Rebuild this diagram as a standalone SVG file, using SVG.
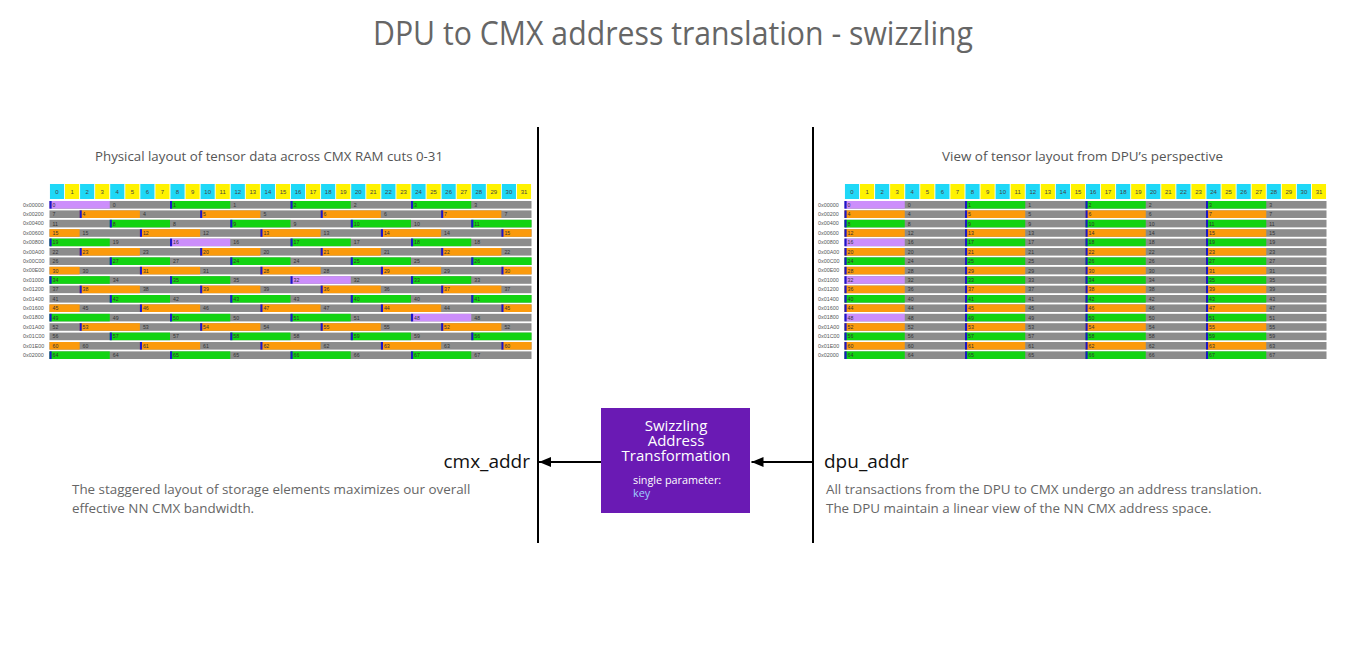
<svg xmlns="http://www.w3.org/2000/svg" xmlns:xlink="http://www.w3.org/1999/xlink" width="1354" height="657" viewBox="0 0 1354 657">
<style>
.gr{fill:#8c8c8c}.gn{fill:#12d312}.or{fill:#fb9a0c}.pu{fill:#cc8efb}.bl{fill:#1b16c8}
.cy{fill:#1fd8f7}.ye{fill:#fff200}
.hn{font-family:"Liberation Sans",Arial,sans-serif;font-size:6px;fill:#444;text-anchor:middle}
.lb{font-family:"Liberation Sans",Arial,sans-serif;font-size:5.2px;fill:#333}
.ad{font-family:"Liberation Sans",Arial,sans-serif;font-size:5.4px;fill:#555}
.sans{font-family:"Open Sans","Liberation Sans",sans-serif}
.vl{stroke:#000;stroke-width:2}
.conn{stroke:#000;stroke-width:2;fill:none}
</style>
<defs>
<marker id="ah" markerUnits="userSpaceOnUse" markerWidth="13" markerHeight="11" refX="12" refY="5" orient="auto">
<path d="M0,0 L12,5 L0,10 z" fill="#000"/>
</marker>
<g id="mk"><rect class="bl" x="0" width="0.14" height="7.6"/><rect class="bl" x="8" width="0.14" height="7.6"/><rect class="bl" x="16" width="0.14" height="7.6"/><rect class="bl" x="24" width="0.14" height="7.6"/></g>
<g id="hdr">
<g transform="scale(15.0625,1)">
<rect class="cy" x="0.03" width="0.94" height="15"/><rect class="ye" x="1.03" width="0.94" height="15"/><rect class="cy" x="2.03" width="0.94" height="15"/><rect class="ye" x="3.03" width="0.94" height="15"/>
<rect class="cy" x="4.03" width="0.94" height="15"/><rect class="ye" x="5.03" width="0.94" height="15"/><rect class="cy" x="6.03" width="0.94" height="15"/><rect class="ye" x="7.03" width="0.94" height="15"/>
<rect class="cy" x="8.03" width="0.94" height="15"/><rect class="ye" x="9.03" width="0.94" height="15"/><rect class="cy" x="10.03" width="0.94" height="15"/><rect class="ye" x="11.03" width="0.94" height="15"/>
<rect class="cy" x="12.03" width="0.94" height="15"/><rect class="ye" x="13.03" width="0.94" height="15"/><rect class="cy" x="14.03" width="0.94" height="15"/><rect class="ye" x="15.03" width="0.94" height="15"/>
<rect class="cy" x="16.03" width="0.94" height="15"/><rect class="ye" x="17.03" width="0.94" height="15"/><rect class="cy" x="18.03" width="0.94" height="15"/><rect class="ye" x="19.03" width="0.94" height="15"/>
<rect class="cy" x="20.03" width="0.94" height="15"/><rect class="ye" x="21.03" width="0.94" height="15"/><rect class="cy" x="22.03" width="0.94" height="15"/><rect class="ye" x="23.03" width="0.94" height="15"/>
<rect class="cy" x="24.03" width="0.94" height="15"/><rect class="ye" x="25.03" width="0.94" height="15"/><rect class="cy" x="26.03" width="0.94" height="15"/><rect class="ye" x="27.03" width="0.94" height="15"/>
<rect class="cy" x="28.03" width="0.94" height="15"/><rect class="ye" x="29.03" width="0.94" height="15"/><rect class="cy" x="30.03" width="0.94" height="15"/><rect class="ye" x="31.03" width="0.94" height="15"/>
</g>
<text class="hn" y="9.6"><tspan x="7.53">0</tspan><tspan x="22.59">1</tspan><tspan x="37.66">2</tspan><tspan x="52.72">3</tspan><tspan x="67.78">4</tspan><tspan x="82.84">5</tspan><tspan x="97.91">6</tspan><tspan x="112.97">7</tspan><tspan x="128.03">8</tspan><tspan x="143.09">9</tspan><tspan x="158.16">10</tspan><tspan x="173.22">11</tspan><tspan x="188.28">12</tspan><tspan x="203.34">13</tspan><tspan x="218.41">14</tspan><tspan x="233.47">15</tspan><tspan x="248.53">16</tspan><tspan x="263.59">17</tspan><tspan x="278.66">18</tspan><tspan x="293.72">19</tspan><tspan x="308.78">20</tspan><tspan x="323.84">21</tspan><tspan x="338.91">22</tspan><tspan x="353.97">23</tspan><tspan x="369.03">24</tspan><tspan x="384.09">25</tspan><tspan x="399.16">26</tspan><tspan x="414.22">27</tspan><tspan x="429.28">28</tspan><tspan x="444.34">29</tspan><tspan x="459.41">30</tspan><tspan x="474.47">31</tspan></text>
</g>
<g id="addr" class="ad">
<text y="206.6">0x00000</text><text y="216">0x00200</text><text y="225.4">0x00400</text><text y="234.8">0x00600</text><text y="244.2">0x00800</text><text y="253.6">0x00A00</text><text y="263">0x00C00</text><text y="272.4">0x00E00</text><text y="281.8">0x01000</text><text y="291.2">0x01200</text><text y="300.6">0x01400</text><text y="310">0x01600</text><text y="319.4">0x01800</text><text y="328.8">0x01A00</text><text y="338.2">0x01C00</text><text y="347.6">0x01E00</text><text y="357">0x02000</text>
</g>
</defs>

<text id="title" class="sans" x="673" y="45" font-size="32" fill="#666" text-anchor="middle" textLength="600" lengthAdjust="spacingAndGlyphs">DPU to CMX address translation - swizzling</text>

<g id="dividers">
<line class="vl" x1="538" y1="127" x2="538" y2="543"/>
<line class="vl" x1="813" y1="127" x2="813" y2="543"/>
</g>

<g id="physical-layout">
<text class="sans" x="95" y="160.5" font-size="13.5" fill="#555" textLength="348" lengthAdjust="spacingAndGlyphs">Physical layout of tensor data across CMX RAM cuts 0-31</text>
<use xlink:href="#hdr" href="#hdr" transform="translate(49.5,184)"/>
<use xlink:href="#addr" href="#addr" transform="translate(23,0)"/>
<g transform="translate(49.5,0) scale(15.0625,1)">
<g class="gr">
<rect x="0" y="201" width="32" height="7.6"/><rect x="0" y="210.4" width="32" height="7.6"/><rect x="0" y="219.8" width="32" height="7.6"/><rect x="0" y="229.2" width="32" height="7.6"/><rect x="0" y="238.6" width="32" height="7.6"/><rect x="0" y="248" width="32" height="7.6"/><rect x="0" y="257.4" width="32" height="7.6"/><rect x="0" y="266.8" width="32" height="7.6"/><rect x="0" y="276.2" width="32" height="7.6"/><rect x="0" y="285.6" width="32" height="7.6"/><rect x="0" y="295" width="32" height="7.6"/><rect x="0" y="304.4" width="32" height="7.6"/><rect x="0" y="313.8" width="32" height="7.6"/><rect x="0" y="323.2" width="32" height="7.6"/><rect x="0" y="332.6" width="32" height="7.6"/><rect x="0" y="342" width="32" height="7.6"/><rect x="0" y="351.4" width="32" height="7.6"/>
</g>
<rect class="pu" x="0" y="201" width="4" height="7.6"/><rect class="gn" x="8" y="201" width="4" height="7.6"/><rect class="gn" x="16" y="201" width="4" height="7.6"/><rect class="gn" x="24" y="201" width="4" height="7.6"/>
<g class="or"><rect x="2" y="210.4" width="4" height="7.6"/><rect x="10" y="210.4" width="4" height="7.6"/><rect x="18" y="210.4" width="4" height="7.6"/><rect x="26" y="210.4" width="4" height="7.6"/></g>
<g class="gn"><rect x="4" y="219.8" width="4" height="7.6"/><rect x="12" y="219.8" width="4" height="7.6"/><rect x="20" y="219.8" width="4" height="7.6"/><rect x="28" y="219.8" width="4" height="7.6"/></g>
<g class="or"><rect x="6" y="229.2" width="4" height="7.6"/><rect x="14" y="229.2" width="4" height="7.6"/><rect x="22" y="229.2" width="4" height="7.6"/><rect x="30" y="229.2" width="2" height="7.6"/><rect x="0" y="229.2" width="2" height="7.6"/></g>
<rect class="pu" x="8" y="238.6" width="4" height="7.6"/><g class="gn"><rect x="16" y="238.6" width="4" height="7.6"/><rect x="24" y="238.6" width="4" height="7.6"/><rect x="0" y="238.6" width="4" height="7.6"/></g>
<g class="or"><rect x="10" y="248" width="4" height="7.6"/><rect x="18" y="248" width="4" height="7.6"/><rect x="26" y="248" width="4" height="7.6"/><rect x="2" y="248" width="4" height="7.6"/></g>
<g class="gn"><rect x="12" y="257.4" width="4" height="7.6"/><rect x="20" y="257.4" width="4" height="7.6"/><rect x="28" y="257.4" width="4" height="7.6"/><rect x="4" y="257.4" width="4" height="7.6"/></g>
<g class="or"><rect x="14" y="266.8" width="4" height="7.6"/><rect x="22" y="266.8" width="4" height="7.6"/><rect x="6" y="266.8" width="4" height="7.6"/><rect x="30" y="266.8" width="2" height="7.6"/><rect x="0" y="266.8" width="2" height="7.6"/></g>
<rect class="pu" x="16" y="276.2" width="4" height="7.6"/><g class="gn"><rect x="24" y="276.2" width="4" height="7.6"/><rect x="0" y="276.2" width="4" height="7.6"/><rect x="8" y="276.2" width="4" height="7.6"/></g>
<g class="or"><rect x="18" y="285.6" width="4" height="7.6"/><rect x="26" y="285.6" width="4" height="7.6"/><rect x="2" y="285.6" width="4" height="7.6"/><rect x="10" y="285.6" width="4" height="7.6"/></g>
<g class="gn"><rect x="20" y="295" width="4" height="7.6"/><rect x="28" y="295" width="4" height="7.6"/><rect x="4" y="295" width="4" height="7.6"/><rect x="12" y="295" width="4" height="7.6"/></g>
<g class="or"><rect x="22" y="304.4" width="4" height="7.6"/><rect x="6" y="304.4" width="4" height="7.6"/><rect x="14" y="304.4" width="4" height="7.6"/><rect x="30" y="304.4" width="2" height="7.6"/><rect x="0" y="304.4" width="2" height="7.6"/></g>
<rect class="pu" x="24" y="313.8" width="4" height="7.6"/><g class="gn"><rect x="0" y="313.8" width="4" height="7.6"/><rect x="8" y="313.8" width="4" height="7.6"/><rect x="16" y="313.8" width="4" height="7.6"/></g>
<g class="or"><rect x="26" y="323.2" width="4" height="7.6"/><rect x="2" y="323.2" width="4" height="7.6"/><rect x="10" y="323.2" width="4" height="7.6"/><rect x="18" y="323.2" width="4" height="7.6"/></g>
<g class="gn"><rect x="28" y="332.6" width="4" height="7.6"/><rect x="4" y="332.6" width="4" height="7.6"/><rect x="12" y="332.6" width="4" height="7.6"/><rect x="20" y="332.6" width="4" height="7.6"/></g>
<g class="or"><rect x="6" y="342" width="4" height="7.6"/><rect x="14" y="342" width="4" height="7.6"/><rect x="22" y="342" width="4" height="7.6"/><rect x="30" y="342" width="2" height="7.6"/><rect x="0" y="342" width="2" height="7.6"/></g>
<g class="gn"><rect x="0" y="351.4" width="4" height="7.6"/><rect x="8" y="351.4" width="4" height="7.6"/><rect x="16" y="351.4" width="4" height="7.6"/><rect x="24" y="351.4" width="4" height="7.6"/></g>
<use href="#mk" xlink:href="#mk" x="0" y="201"/><use href="#mk" xlink:href="#mk" x="2" y="210.4"/><use href="#mk" xlink:href="#mk" x="4" y="219.8"/><use href="#mk" xlink:href="#mk" x="6" y="229.2"/>
<use href="#mk" xlink:href="#mk" x="0" y="238.6"/><use href="#mk" xlink:href="#mk" x="2" y="248"/><use href="#mk" xlink:href="#mk" x="4" y="257.4"/><use href="#mk" xlink:href="#mk" x="6" y="266.8"/>
<use href="#mk" xlink:href="#mk" x="0" y="276.2"/><use href="#mk" xlink:href="#mk" x="2" y="285.6"/><use href="#mk" xlink:href="#mk" x="4" y="295"/><use href="#mk" xlink:href="#mk" x="6" y="304.4"/>
<use href="#mk" xlink:href="#mk" x="0" y="313.8"/><use href="#mk" xlink:href="#mk" x="2" y="323.2"/><use href="#mk" xlink:href="#mk" x="4" y="332.6"/><use href="#mk" xlink:href="#mk" x="6" y="342"/>
<use href="#mk" xlink:href="#mk" x="0" y="351.4"/>
</g>
<g class="lb" transform="translate(3,0)">
<text y="206.8"><tspan x="49.5">0</tspan><tspan x="109.8">0</tspan><tspan x="170">1</tspan><tspan x="230.3">1</tspan><tspan x="290.5">2</tspan><tspan x="350.8">2</tspan><tspan x="411">3</tspan><tspan x="471.3">3</tspan></text>
<text y="216.2"><tspan x="49.5">7</tspan><tspan x="79.6">4</tspan><tspan x="139.9">4</tspan><tspan x="200.1">5</tspan><tspan x="260.4">5</tspan><tspan x="320.6">6</tspan><tspan x="380.9">6</tspan><tspan x="441.1">7</tspan><tspan x="501.4">7</tspan></text>
<text y="225.6"><tspan x="49.5">11</tspan><tspan x="109.8">8</tspan><tspan x="170">8</tspan><tspan x="230.3">9</tspan><tspan x="290.5">9</tspan><tspan x="350.8">10</tspan><tspan x="411">10</tspan><tspan x="471.3">11</tspan></text>
<text y="235"><tspan x="49.5">15</tspan><tspan x="79.6">15</tspan><tspan x="139.9">12</tspan><tspan x="200.1">12</tspan><tspan x="260.4">13</tspan><tspan x="320.6">13</tspan><tspan x="380.9">14</tspan><tspan x="441.1">14</tspan><tspan x="501.4">15</tspan></text>
<text y="244.4"><tspan x="49.5">19</tspan><tspan x="109.8">19</tspan><tspan x="170">16</tspan><tspan x="230.3">16</tspan><tspan x="290.5">17</tspan><tspan x="350.8">17</tspan><tspan x="411">18</tspan><tspan x="471.3">18</tspan></text>
<text y="253.8"><tspan x="49.5">22</tspan><tspan x="79.6">23</tspan><tspan x="139.9">23</tspan><tspan x="200.1">20</tspan><tspan x="260.4">20</tspan><tspan x="320.6">21</tspan><tspan x="380.9">21</tspan><tspan x="441.1">22</tspan><tspan x="501.4">22</tspan></text>
<text y="263.2"><tspan x="49.5">26</tspan><tspan x="109.8">27</tspan><tspan x="170">27</tspan><tspan x="230.3">24</tspan><tspan x="290.5">24</tspan><tspan x="350.8">25</tspan><tspan x="411">25</tspan><tspan x="471.3">26</tspan></text>
<text y="272.6"><tspan x="49.5">30</tspan><tspan x="79.6">30</tspan><tspan x="139.9">31</tspan><tspan x="200.1">31</tspan><tspan x="260.4">28</tspan><tspan x="320.6">28</tspan><tspan x="380.9">29</tspan><tspan x="441.1">29</tspan><tspan x="501.4">30</tspan></text>
<text y="282"><tspan x="49.5">34</tspan><tspan x="109.8">34</tspan><tspan x="170">35</tspan><tspan x="230.3">35</tspan><tspan x="290.5">32</tspan><tspan x="350.8">32</tspan><tspan x="411">33</tspan><tspan x="471.3">33</tspan></text>
<text y="291.4"><tspan x="49.5">37</tspan><tspan x="79.6">38</tspan><tspan x="139.9">38</tspan><tspan x="200.1">39</tspan><tspan x="260.4">39</tspan><tspan x="320.6">36</tspan><tspan x="380.9">36</tspan><tspan x="441.1">37</tspan><tspan x="501.4">37</tspan></text>
<text y="300.8"><tspan x="49.5">41</tspan><tspan x="109.8">42</tspan><tspan x="170">42</tspan><tspan x="230.3">43</tspan><tspan x="290.5">43</tspan><tspan x="350.8">40</tspan><tspan x="411">40</tspan><tspan x="471.3">41</tspan></text>
<text y="310.2"><tspan x="49.5">45</tspan><tspan x="79.6">45</tspan><tspan x="139.9">46</tspan><tspan x="200.1">46</tspan><tspan x="260.4">47</tspan><tspan x="320.6">47</tspan><tspan x="380.9">44</tspan><tspan x="441.1">44</tspan><tspan x="501.4">45</tspan></text>
<text y="319.6"><tspan x="49.5">49</tspan><tspan x="109.8">49</tspan><tspan x="170">50</tspan><tspan x="230.3">50</tspan><tspan x="290.5">51</tspan><tspan x="350.8">51</tspan><tspan x="411">48</tspan><tspan x="471.3">48</tspan></text>
<text y="329"><tspan x="49.5">52</tspan><tspan x="79.6">53</tspan><tspan x="139.9">53</tspan><tspan x="200.1">54</tspan><tspan x="260.4">54</tspan><tspan x="320.6">55</tspan><tspan x="380.9">55</tspan><tspan x="441.1">52</tspan><tspan x="501.4">52</tspan></text>
<text y="338.4"><tspan x="49.5">56</tspan><tspan x="109.8">57</tspan><tspan x="170">57</tspan><tspan x="230.3">58</tspan><tspan x="290.5">58</tspan><tspan x="350.8">59</tspan><tspan x="411">59</tspan><tspan x="471.3">56</tspan></text>
<text y="347.8"><tspan x="49.5">60</tspan><tspan x="79.6">60</tspan><tspan x="139.9">61</tspan><tspan x="200.1">61</tspan><tspan x="260.4">62</tspan><tspan x="320.6">62</tspan><tspan x="380.9">63</tspan><tspan x="441.1">63</tspan><tspan x="501.4">60</tspan></text>
<text y="357.2"><tspan x="49.5">64</tspan><tspan x="109.8">64</tspan><tspan x="170">65</tspan><tspan x="230.3">65</tspan><tspan x="290.5">66</tspan><tspan x="350.8">66</tspan><tspan x="411">67</tspan><tspan x="471.3">67</tspan></text>
</g>
<text class="sans" font-size="19" fill="#111" x="530" y="467.5" text-anchor="end">cmx_addr</text>
<text class="sans" font-size="13.4" fill="#666"><tspan x="72" y="494">The staggered layout of storage elements maximizes our overall</tspan><tspan x="72" y="512.5">effective NN CMX bandwidth.</tspan></text>
</g>

<g id="dpu-view">
<text class="sans" x="942" y="160.5" font-size="13.5" fill="#555" textLength="281" lengthAdjust="spacingAndGlyphs">View of tensor layout from DPU’s perspective</text>
<use xlink:href="#hdr" href="#hdr" transform="translate(844.5,184)"/>
<use xlink:href="#addr" href="#addr" transform="translate(818,0)"/>
<g transform="translate(844.5,0) scale(15.0625,1)">
<g class="gr">
<rect x="0" y="201" width="32" height="7.6"/><rect x="0" y="210.4" width="32" height="7.6"/><rect x="0" y="219.8" width="32" height="7.6"/><rect x="0" y="229.2" width="32" height="7.6"/><rect x="0" y="238.6" width="32" height="7.6"/><rect x="0" y="248" width="32" height="7.6"/><rect x="0" y="257.4" width="32" height="7.6"/><rect x="0" y="266.8" width="32" height="7.6"/><rect x="0" y="276.2" width="32" height="7.6"/><rect x="0" y="285.6" width="32" height="7.6"/><rect x="0" y="295" width="32" height="7.6"/><rect x="0" y="304.4" width="32" height="7.6"/><rect x="0" y="313.8" width="32" height="7.6"/><rect x="0" y="323.2" width="32" height="7.6"/><rect x="0" y="332.6" width="32" height="7.6"/><rect x="0" y="342" width="32" height="7.6"/><rect x="0" y="351.4" width="32" height="7.6"/>
</g>
<rect class="pu" x="0" y="201" width="4" height="7.6"/><g class="gn"><rect x="8" y="201" width="4" height="7.6"/><rect x="16" y="201" width="4" height="7.6"/><rect x="24" y="201" width="4" height="7.6"/></g>
<g class="or"><rect x="0" y="210.4" width="4" height="7.6"/><rect x="8" y="210.4" width="4" height="7.6"/><rect x="16" y="210.4" width="4" height="7.6"/><rect x="24" y="210.4" width="4" height="7.6"/></g>
<g class="gn"><rect x="0" y="219.8" width="4" height="7.6"/><rect x="8" y="219.8" width="4" height="7.6"/><rect x="16" y="219.8" width="4" height="7.6"/><rect x="24" y="219.8" width="4" height="7.6"/></g>
<g class="or"><rect x="0" y="229.2" width="4" height="7.6"/><rect x="8" y="229.2" width="4" height="7.6"/><rect x="16" y="229.2" width="4" height="7.6"/><rect x="24" y="229.2" width="4" height="7.6"/></g>
<rect class="pu" x="0" y="238.6" width="4" height="7.6"/><g class="gn"><rect x="8" y="238.6" width="4" height="7.6"/><rect x="16" y="238.6" width="4" height="7.6"/><rect x="24" y="238.6" width="4" height="7.6"/></g>
<g class="or"><rect x="0" y="248" width="4" height="7.6"/><rect x="8" y="248" width="4" height="7.6"/><rect x="16" y="248" width="4" height="7.6"/><rect x="24" y="248" width="4" height="7.6"/></g>
<g class="gn"><rect x="0" y="257.4" width="4" height="7.6"/><rect x="8" y="257.4" width="4" height="7.6"/><rect x="16" y="257.4" width="4" height="7.6"/><rect x="24" y="257.4" width="4" height="7.6"/></g>
<g class="or"><rect x="0" y="266.8" width="4" height="7.6"/><rect x="8" y="266.8" width="4" height="7.6"/><rect x="16" y="266.8" width="4" height="7.6"/><rect x="24" y="266.8" width="4" height="7.6"/></g>
<rect class="pu" x="0" y="276.2" width="4" height="7.6"/><g class="gn"><rect x="8" y="276.2" width="4" height="7.6"/><rect x="16" y="276.2" width="4" height="7.6"/><rect x="24" y="276.2" width="4" height="7.6"/></g>
<g class="or"><rect x="0" y="285.6" width="4" height="7.6"/><rect x="8" y="285.6" width="4" height="7.6"/><rect x="16" y="285.6" width="4" height="7.6"/><rect x="24" y="285.6" width="4" height="7.6"/></g>
<g class="gn"><rect x="0" y="295" width="4" height="7.6"/><rect x="8" y="295" width="4" height="7.6"/><rect x="16" y="295" width="4" height="7.6"/><rect x="24" y="295" width="4" height="7.6"/></g>
<g class="or"><rect x="0" y="304.4" width="4" height="7.6"/><rect x="8" y="304.4" width="4" height="7.6"/><rect x="16" y="304.4" width="4" height="7.6"/><rect x="24" y="304.4" width="4" height="7.6"/></g>
<rect class="pu" x="0" y="313.8" width="4" height="7.6"/><g class="gn"><rect x="8" y="313.8" width="4" height="7.6"/><rect x="16" y="313.8" width="4" height="7.6"/><rect x="24" y="313.8" width="4" height="7.6"/></g>
<g class="or"><rect x="0" y="323.2" width="4" height="7.6"/><rect x="8" y="323.2" width="4" height="7.6"/><rect x="16" y="323.2" width="4" height="7.6"/><rect x="24" y="323.2" width="4" height="7.6"/></g>
<g class="gn"><rect x="0" y="332.6" width="4" height="7.6"/><rect x="8" y="332.6" width="4" height="7.6"/><rect x="16" y="332.6" width="4" height="7.6"/><rect x="24" y="332.6" width="4" height="7.6"/></g>
<g class="or"><rect x="0" y="342" width="4" height="7.6"/><rect x="8" y="342" width="4" height="7.6"/><rect x="16" y="342" width="4" height="7.6"/><rect x="24" y="342" width="4" height="7.6"/></g>
<g class="gn"><rect x="0" y="351.4" width="4" height="7.6"/><rect x="8" y="351.4" width="4" height="7.6"/><rect x="16" y="351.4" width="4" height="7.6"/><rect x="24" y="351.4" width="4" height="7.6"/></g>
<use href="#mk" xlink:href="#mk" y="201"/><use href="#mk" xlink:href="#mk" y="210.4"/><use href="#mk" xlink:href="#mk" y="219.8"/><use href="#mk" xlink:href="#mk" y="229.2"/>
<use href="#mk" xlink:href="#mk" y="238.6"/><use href="#mk" xlink:href="#mk" y="248"/><use href="#mk" xlink:href="#mk" y="257.4"/><use href="#mk" xlink:href="#mk" y="266.8"/>
<use href="#mk" xlink:href="#mk" y="276.2"/><use href="#mk" xlink:href="#mk" y="285.6"/><use href="#mk" xlink:href="#mk" y="295"/><use href="#mk" xlink:href="#mk" y="304.4"/>
<use href="#mk" xlink:href="#mk" y="313.8"/><use href="#mk" xlink:href="#mk" y="323.2"/><use href="#mk" xlink:href="#mk" y="332.6"/><use href="#mk" xlink:href="#mk" y="342"/>
<use href="#mk" xlink:href="#mk" y="351.4"/>
</g>
<g class="lb" transform="translate(3,0)">
<text y="206.8"><tspan x="844.5">0</tspan><tspan x="904.8">0</tspan><tspan x="965">1</tspan><tspan x="1025.3">1</tspan><tspan x="1085.5">2</tspan><tspan x="1145.8">2</tspan><tspan x="1206">3</tspan><tspan x="1266.3">3</tspan></text>
<text y="216.2"><tspan x="844.5">4</tspan><tspan x="904.8">4</tspan><tspan x="965">5</tspan><tspan x="1025.3">5</tspan><tspan x="1085.5">6</tspan><tspan x="1145.8">6</tspan><tspan x="1206">7</tspan><tspan x="1266.3">7</tspan></text>
<text y="225.6"><tspan x="844.5">8</tspan><tspan x="904.8">8</tspan><tspan x="965">9</tspan><tspan x="1025.3">9</tspan><tspan x="1085.5">10</tspan><tspan x="1145.8">10</tspan><tspan x="1206">11</tspan><tspan x="1266.3">11</tspan></text>
<text y="235"><tspan x="844.5">12</tspan><tspan x="904.8">12</tspan><tspan x="965">13</tspan><tspan x="1025.3">13</tspan><tspan x="1085.5">14</tspan><tspan x="1145.8">14</tspan><tspan x="1206">15</tspan><tspan x="1266.3">15</tspan></text>
<text y="244.4"><tspan x="844.5">16</tspan><tspan x="904.8">16</tspan><tspan x="965">17</tspan><tspan x="1025.3">17</tspan><tspan x="1085.5">18</tspan><tspan x="1145.8">18</tspan><tspan x="1206">19</tspan><tspan x="1266.3">19</tspan></text>
<text y="253.8"><tspan x="844.5">20</tspan><tspan x="904.8">20</tspan><tspan x="965">21</tspan><tspan x="1025.3">21</tspan><tspan x="1085.5">22</tspan><tspan x="1145.8">22</tspan><tspan x="1206">23</tspan><tspan x="1266.3">23</tspan></text>
<text y="263.2"><tspan x="844.5">24</tspan><tspan x="904.8">24</tspan><tspan x="965">25</tspan><tspan x="1025.3">25</tspan><tspan x="1085.5">26</tspan><tspan x="1145.8">26</tspan><tspan x="1206">27</tspan><tspan x="1266.3">27</tspan></text>
<text y="272.6"><tspan x="844.5">28</tspan><tspan x="904.8">28</tspan><tspan x="965">29</tspan><tspan x="1025.3">29</tspan><tspan x="1085.5">30</tspan><tspan x="1145.8">30</tspan><tspan x="1206">31</tspan><tspan x="1266.3">31</tspan></text>
<text y="282"><tspan x="844.5">32</tspan><tspan x="904.8">32</tspan><tspan x="965">33</tspan><tspan x="1025.3">33</tspan><tspan x="1085.5">34</tspan><tspan x="1145.8">34</tspan><tspan x="1206">35</tspan><tspan x="1266.3">35</tspan></text>
<text y="291.4"><tspan x="844.5">36</tspan><tspan x="904.8">36</tspan><tspan x="965">37</tspan><tspan x="1025.3">37</tspan><tspan x="1085.5">38</tspan><tspan x="1145.8">38</tspan><tspan x="1206">39</tspan><tspan x="1266.3">39</tspan></text>
<text y="300.8"><tspan x="844.5">40</tspan><tspan x="904.8">40</tspan><tspan x="965">41</tspan><tspan x="1025.3">41</tspan><tspan x="1085.5">42</tspan><tspan x="1145.8">42</tspan><tspan x="1206">43</tspan><tspan x="1266.3">43</tspan></text>
<text y="310.2"><tspan x="844.5">44</tspan><tspan x="904.8">44</tspan><tspan x="965">45</tspan><tspan x="1025.3">45</tspan><tspan x="1085.5">46</tspan><tspan x="1145.8">46</tspan><tspan x="1206">47</tspan><tspan x="1266.3">47</tspan></text>
<text y="319.6"><tspan x="844.5">48</tspan><tspan x="904.8">48</tspan><tspan x="965">49</tspan><tspan x="1025.3">49</tspan><tspan x="1085.5">50</tspan><tspan x="1145.8">50</tspan><tspan x="1206">51</tspan><tspan x="1266.3">51</tspan></text>
<text y="329"><tspan x="844.5">52</tspan><tspan x="904.8">52</tspan><tspan x="965">53</tspan><tspan x="1025.3">53</tspan><tspan x="1085.5">54</tspan><tspan x="1145.8">54</tspan><tspan x="1206">55</tspan><tspan x="1266.3">55</tspan></text>
<text y="338.4"><tspan x="844.5">56</tspan><tspan x="904.8">56</tspan><tspan x="965">57</tspan><tspan x="1025.3">57</tspan><tspan x="1085.5">58</tspan><tspan x="1145.8">58</tspan><tspan x="1206">59</tspan><tspan x="1266.3">59</tspan></text>
<text y="347.8"><tspan x="844.5">60</tspan><tspan x="904.8">60</tspan><tspan x="965">61</tspan><tspan x="1025.3">61</tspan><tspan x="1085.5">62</tspan><tspan x="1145.8">62</tspan><tspan x="1206">63</tspan><tspan x="1266.3">63</tspan></text>
<text y="357.2"><tspan x="844.5">64</tspan><tspan x="904.8">64</tspan><tspan x="965">65</tspan><tspan x="1025.3">65</tspan><tspan x="1085.5">66</tspan><tspan x="1145.8">66</tspan><tspan x="1206">67</tspan><tspan x="1266.3">67</tspan></text>
</g>
<text class="sans" font-size="19" fill="#111" x="824" y="467.5">dpu_addr</text>
<text class="sans" font-size="13.4" fill="#666"><tspan x="826" y="494">All transactions from the DPU to CMX undergo an address translation.</tspan><tspan x="826" y="512.5">The DPU maintain a linear view of the NN CMX address space.</tspan></text>
</g>

<g id="swizzle-box">
<rect x="601" y="408" width="149" height="105" fill="#6a1ab4"/>
<text class="sans" font-size="15" fill="#fff" text-anchor="middle"><tspan x="676" y="431">Swizzling</tspan><tspan x="676" y="446">Address</tspan><tspan x="676" y="461">Transformation</tspan></text>
<text class="sans" font-size="10.8" fill="#fff" x="633" y="483.5">single parameter:</text>
<text class="sans" font-size="10.8" fill="#9fd0ff" x="633" y="497">key</text>
</g>

<g id="connectors">
<line class="conn" x1="601" y1="462" x2="539" y2="462" marker-end="url(#ah)"/>
<line class="conn" x1="813" y1="462" x2="751.5" y2="462" marker-end="url(#ah)"/>
</g>
</svg>
